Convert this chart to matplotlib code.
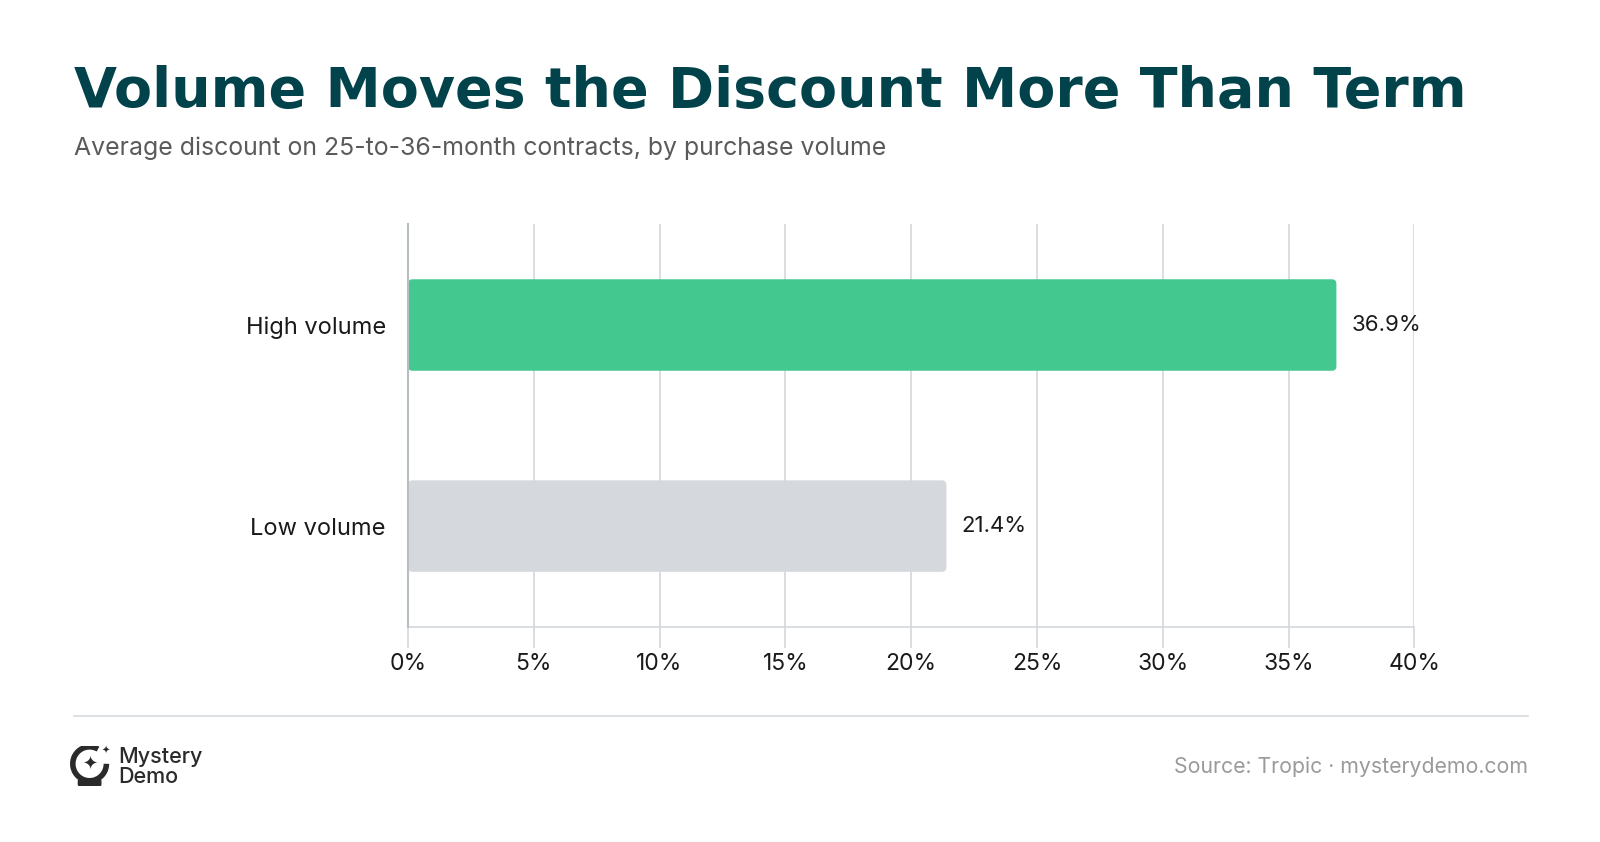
import matplotlib.pyplot as plt
from matplotlib.patches import FancyBboxPatch, Arc
from matplotlib.lines import Line2D

categories = ["Low volume", "High volume"]
discounts = [21.4, 36.9]
bar_colors = ["#d5d9dd", "#43c890"]
x_ticks = [0, 5, 10, 15, 20, 25, 30, 35, 40]

title = "Volume Moves the Discount More Than Term"
subtitle = "Average discount on 25-to-36-month contracts, by purchase volume"
source = "Source: Tropic · mysterydemo.com"

plt.rcParams['font.family'] = ['Inter', 'DejaVu Sans']

fig = plt.figure(figsize=(16, 8.42), dpi=100)
ax = fig.add_axes([0.255, 0.2558, 0.629, 0.4776])

bars = ax.barh(range(len(categories)), discounts, height=0.455, color=bar_colors)
# swap plain rectangles for slightly rounded ones
for b, c in zip(bars, bar_colors):
    b.set_visible(False)
    ax.add_patch(FancyBboxPatch((b.get_x(), b.get_y()), b.get_width(), b.get_height(),
                                boxstyle="round,pad=0,rounding_size=0.18",
                                mutation_aspect=0.125, facecolor=c, edgecolor="none", zorder=2))
    ax.text(b.get_width() + 0.6, b.get_y() + b.get_height() / 2, f"{b.get_width():.1f}%",
            va="center", ha="left", fontsize=16, color="#1a1a1a")

ax.set_xlim(0, 40)
ax.set_ylim(-0.5, 1.5)
ax.set_xticks(x_ticks)
ax.set_xticklabels([f"{t}%" for t in x_ticks], fontsize=16.5, color="#1a1a1a")
ax.set_yticks(range(len(categories)))
ax.set_yticklabels(categories, fontsize=17, color="#1a1a1a")
ax.tick_params(axis="y", length=0, pad=16)
ax.tick_params(axis="x", length=15, width=1.2, color="#d3d7db", pad=4)
ax.grid(axis="x", color="#d3d7db", linewidth=1.2, zorder=0)
ax.set_axisbelow(True)
for s in ["top", "right"]:
    ax.spines[s].set_visible(False)
ax.spines["bottom"].set_color("#d3d7db")
ax.spines["bottom"].set_linewidth(1.2)
ax.spines["left"].set_color("#b9bec3")
ax.spines["left"].set_linewidth(1.5)
ax.spines["left"].set_zorder(3)

fig.text(0.046, 0.891, title, fontsize=40, fontweight="heavy", color="#02424b",
         family=["DejaVu Sans"], va="center")
fig.text(0.046, 0.824, subtitle, fontsize=17.9, color="#5a5a5a", va="center")

fig.add_artist(Line2D([0.046, 0.955], [0.15, 0.15], color="#d8dbde", linewidth=1.2))
fig.text(0.955, 0.089, source, fontsize=15.3, color="#9a9a9a", ha="right", va="center")

# logo
logo = fig.add_axes([0.044, 0.066, 0.025, 0.048])
logo.set_xlim(0, 1)
logo.set_ylim(0, 1)
logo.axis("off")
logo.add_patch(Arc((0.48, 0.56), 0.84, 0.84, theta1=60, theta2=360, linewidth=4, color="#2a2a2a"))
logo.add_patch(FancyBboxPatch((0.2, 0.02), 0.56, 0.14, boxstyle="round,pad=0,rounding_size=0.03",
                              color="#2a2a2a"))
logo.text(0.48, 0.54, "✦", fontsize=13, ha="center", va="center", color="#2a2a2a", family=["DejaVu Sans"])
logo.text(0.88, 0.88, "✦", fontsize=7, ha="center", va="center", color="#2a2a2a", family=["DejaVu Sans"])
fig.text(0.074, 0.101, "Mystery", fontsize=15.5, fontweight="medium", color="#2a2a2a", va="center")
fig.text(0.074, 0.077, "Demo", fontsize=15.5, fontweight="medium", color="#2a2a2a", va="center")

fig.savefig("out.png", dpi=100, facecolor="white")
